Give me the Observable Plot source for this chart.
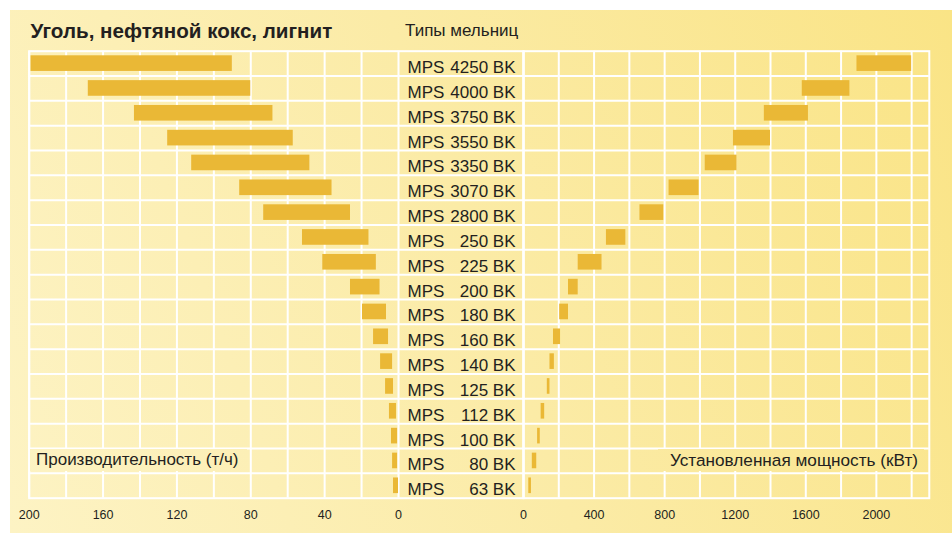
<!DOCTYPE html>
<html>
<head>
<meta charset="utf-8">
<script src="https://cdn.jsdelivr.net/npm/d3@7"></script>
<script src="https://cdn.jsdelivr.net/npm/@observablehq/plot@0.6"></script>
<style>
  body { margin: 0; background: #fff; }
  #wrap { position: relative; width: 952px; height: 533px; overflow: hidden;
          font-family: "Liberation Sans", Arial, Helvetica, sans-serif; color: #231f20; }
  #panel { position: absolute; left: 10px; top: 10px; width: 942px; height: 523px;
           background: linear-gradient(70deg, #fdf3c4 0%, #fbeba6 50%, #fae486 100%); }
  .layer { position: absolute; left: 0; top: 0; }
  .txt { position: absolute; white-space: nowrap; }
  .box { background: linear-gradient(70deg, #fdf3c4 0%, #fbeba6 50%, #fae486 100%);
         background-size: 942px 523px; }
</style>
</head>
<body>
<div id="wrap">
  <div id="panel"></div>
  <div class="layer" id="left"></div>
  <div class="layer" id="right"></div>
  <div class="txt" style="left:30.5px;top:21px;font-size:20.6px;line-height:20.6px;font-weight:bold;">Уголь, нефтяной кокс, лигнит</div>
  <div class="txt" style="left:405px;top:22.3px;font-size:17px;line-height:17px;">Типы мельниц</div>
  <div class="txt box" style="left:30px;top:449px;width:211px;height:22px;padding-left:6px;font-size:17px;line-height:22px;background-position:-20px -439px;">Производительность (т/ч)</div>
  <div class="txt box" style="left:658px;top:449px;width:260px;height:22px;padding-right:6px;text-align:right;font-size:17.2px;line-height:22px;background-position:-648px -439px;">Установленная мощность (кВт)</div>
</div>
<script>
// ---- data ----
const millSizes = ["4250","4000","3750","3550","3350","3070","2800","250","225","200","180","160","140","125","112","100","80","63"];
const capMin = [90, 80, 68, 57, 48, 36, 26, 16, 12, 10, 6.5, 5.4, 3.2, 2.7, 1.1, 0.5, 0.5, 0];
const capMax = [199, 168, 143, 125, 112, 86, 73, 52, 41, 26, 19.5, 13.5, 9.7, 7, 4.9, 3.8, 3.2, 2.7];
const powMin = [1890, 1580, 1365, 1190, 1030, 825, 660, 470, 310, 255, 205, 170, 150, 135, 100, 80, 50, 30];
const powMax = [2200, 1850, 1615, 1400, 1210, 995, 795, 580, 445, 310, 255, 210, 175, 150, 120, 95, 75, 45];
const leftTicks = [200, 160, 120, 80, 40, 0];
const leftGrid = [0, 20, 40, 60, 80, 100, 120, 140, 160, 180, 200];
const rightTicks = [0, 400, 800, 1200, 1600, 2000];
const rightGrid = [0, 200, 400, 600, 800, 1000, 1200, 1400, 1600, 1800, 2000, 2200];

const rows = millSizes.map((s, i) => ({
  name: "MPS " + s + " BK", size: s,
  capMin: capMin[i], capMax: capMax[i], powMin: powMin[i], powMax: powMax[i]
}));
const names = rows.map(d => d.name);

const W = 952, H = 533, MT = 50.7, MB = 35.3;
const bw = (H - MT - MB) / names.length;
const barColor = "#eab836";
const grid = "#ffffff";
const font = '"Liberation Sans", Arial, Helvetica, sans-serif';
const style = { background: "transparent", overflow: "visible", fontFamily: font, fontSize: "12.5px", color: "#231f20" };
const yScale = { type: "band", domain: names, padding: 0, round: false, axis: null };
const fmt = d => String(d);

const left = Plot.plot({
  width: W, height: H, marginTop: MT, marginBottom: MB, marginLeft: 28.7, marginRight: W - 523,
  style,
  x: { domain: [200, 0], range: [28.7, 398], ticks: leftTicks, tickFormat: fmt, tickSize: 0, tickPadding: 12, label: null, axis: "bottom" },
  y: yScale,
  marks: [
    Plot.ruleY(names.slice(1), { y: d => d, dy: -bw / 2, stroke: grid, strokeWidth: 2 }),
    Plot.ruleX(leftGrid, { stroke: grid, strokeWidth: 2 }),
    Plot.frame({ stroke: grid, strokeWidth: 2 }),
    Plot.barX(rows, { x1: "capMin", x2: "capMax", y: "name", fill: barColor, insetTop: 4.6, insetBottom: 4.6 })
  ]
});
document.getElementById("left").appendChild(left);

const right = Plot.plot({
  width: W, height: H, marginTop: MT, marginBottom: MB, marginLeft: 523, marginRight: 23.2,
  style,
  x: { domain: [0, 2300], ticks: rightTicks, tickFormat: fmt, tickSize: 0, tickPadding: 12, label: null, axis: "bottom" },
  y: yScale,
  marks: [
    Plot.ruleY(names.slice(1), { y: d => d, dy: -bw / 2, stroke: grid, strokeWidth: 2 }),
    Plot.ruleX(rightGrid, { stroke: grid, strokeWidth: 2 }),
    Plot.frame({ stroke: grid, strokeWidth: 2 }),
    Plot.barX(rows, { x1: "powMin", x2: "powMax", y: "name", fill: barColor, insetTop: 4.6, insetBottom: 4.6 }),
    Plot.text(rows, { y: "name", text: () => "MPS", frameAnchor: "left", dx: -116, dy: 4, textAnchor: "start", fontSize: 17, fill: "#231f20" }),
    Plot.text(rows, { y: "name", text: d => d.size + " BK", frameAnchor: "left", dx: -8, dy: 4, textAnchor: "end", fontSize: 17, fill: "#231f20" })
  ]
});
document.getElementById("right").appendChild(right);
</script>
</body>
</html>
